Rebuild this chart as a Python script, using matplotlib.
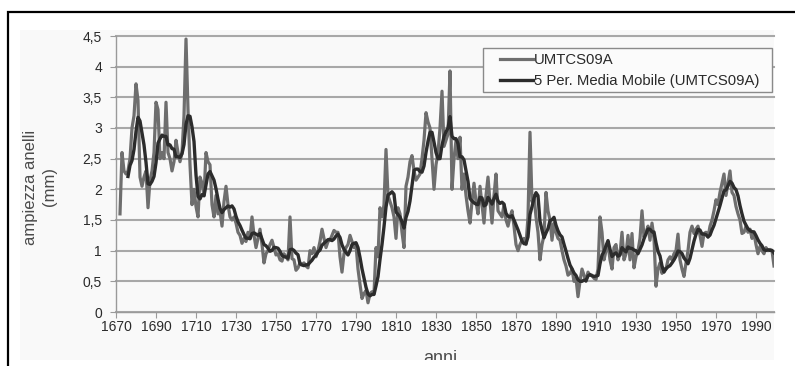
import numpy as np
import pandas as pd
import matplotlib
matplotlib.use("Agg")
import matplotlib.pyplot as plt
from matplotlib.patches import Rectangle
from matplotlib.lines import Line2D
from matplotlib.ticker import FuncFormatter

plt.rcParams['font.family'] = ['Liberation Sans', 'DejaVu Sans']

# Ring width series UMTCS09A (mm), one value per year from 1672
first_year = 1672
ring_width = [
    1.6, 2.6, 2.3, 2.25, 2.3, 2.5, 3.0, 3.2,                 # 1672-1679
    3.72, 3.45, 2.2, 2.05, 2.2, 2.3, 1.7, 2.15, 2.3, 2.6,    # 1680s
    3.42, 3.3, 2.5, 2.6, 2.5, 3.42, 2.6, 2.5, 2.3, 2.45,     # 1690s
    2.8, 2.6, 2.45, 2.6, 3.2, 4.45, 3.3, 2.4, 1.75, 2.0,     # 1700s
    1.72, 1.55, 2.2, 2.1, 1.9, 2.6, 2.45, 2.4, 1.75, 1.55,   # 1710s
    1.9, 1.6, 1.65, 1.4, 1.8, 2.05, 1.75, 1.55, 1.5, 1.55,   # 1720s
    1.45, 1.3, 1.25, 1.12, 1.2, 1.15, 1.3, 1.2, 1.55, 1.25,  # 1730s
    1.05, 1.2, 1.35, 1.1, 0.8, 0.95, 1.0, 1.1, 1.17, 1.05,   # 1740s
    0.93, 0.95, 0.85, 0.83, 0.95, 0.9, 0.85, 1.55, 0.87, 0.85,  # 1750s
    0.68, 0.72, 0.8, 0.78, 0.8, 0.75, 0.72, 1.0, 0.95, 1.05,    # 1760s
    0.9, 1.0, 1.15, 1.35, 1.2, 1.05, 1.15, 1.17, 1.25, 1.33,    # 1770s
    1.3, 1.3, 0.9, 0.65, 0.95, 1.05, 1.1, 1.25, 1.15, 1.05,     # 1780s
    1.1, 0.7, 0.45, 0.22, 0.3, 0.35, 0.15, 0.3, 0.33, 0.3,      # 1790s
    1.05, 0.9, 1.7, 1.55, 1.75, 2.65, 1.9, 1.8, 1.7, 1.55,      # 1800s
    1.2, 1.7, 1.6, 1.3, 1.05, 2.05, 2.2, 2.45, 2.55, 2.3,       # 1810s
    2.15, 2.2, 2.25, 2.5, 2.8, 3.25, 3.1, 3.0, 2.5, 2.0,        # 1820s
    2.4, 2.6, 3.0, 3.6, 2.7, 2.8, 2.9, 3.93, 2.0, 2.5,          # 1830s
    2.8, 2.5, 2.85, 2.0, 2.25, 1.9, 1.65, 1.45, 1.8, 2.1,       # 1840s
    1.8, 1.6, 2.05, 1.75, 1.45, 1.9, 2.2, 1.8, 1.45, 1.9,       # 1850s
    2.25, 1.65, 1.6, 1.55, 1.75, 1.5, 1.4, 1.55, 1.65, 1.4,     # 1860s
    1.1, 1.0, 1.1, 1.17, 1.2, 1.1, 1.55, 2.93, 1.8, 1.9,        # 1870s
    1.55, 1.3, 0.85, 1.1, 1.25, 1.95, 1.65, 1.5, 1.17, 1.45,    # 1880s
    1.3, 1.2, 1.17, 1.0, 0.85, 0.75, 0.6, 0.63, 0.7, 0.5,       # 1890s
    0.55, 0.25, 0.5, 0.7, 0.6, 0.5, 0.65, 0.6, 0.6, 0.55,       # 1900s
    0.53, 0.7, 1.55, 1.3, 0.85, 1.0, 1.12, 0.85, 0.7, 1.05,     # 1910s
    1.1, 0.85, 0.95, 1.3, 0.85, 0.95, 1.25, 0.85, 1.28, 0.72,   # 1920s
    0.9, 1.0, 1.2, 1.65, 1.22, 1.3, 1.4, 1.17, 1.45, 1.2,       # 1930s
    0.42, 0.7, 0.8, 0.63, 0.7, 0.7, 0.85, 0.9, 0.85, 0.95,      # 1940s
    1.0, 1.27, 0.85, 0.7, 0.58, 0.8, 1.0, 1.3, 1.4, 1.28,       # 1950s
    1.35, 1.4, 1.25, 1.07, 1.28, 1.3, 1.22, 1.4, 1.5, 1.65,     # 1960s
    1.83, 1.75, 1.95, 2.1, 2.25, 1.9, 2.1, 2.3, 1.95, 1.9,      # 1970s
    1.72, 1.6, 1.5, 1.28, 1.3, 1.4, 1.3, 1.35, 1.2, 1.28,       # 1980s
    1.1, 0.95, 1.07, 1.0, 0.95, 1.05, 1.0, 1.02, 1.0, 0.75,     # 1990s
]
years = np.arange(first_year, first_year + len(ring_width))

series_label = 'UMTCS09A'
ma_label = '5 Per. Media Mobile (UMTCS09A)'
x_ticks = list(range(1670, 2000, 20))
y_ticks = [0, 0.5, 1, 1.5, 2, 2.5, 3, 3.5, 4, 4.5]

# 5-year trailing moving average
moving_avg = pd.Series(ring_width).rolling(5).mean()

W, H = 795, 366
fig = plt.figure(figsize=(W / 100, H / 100), dpi=100)
fig.patch.set_facecolor('white')


def fx(px):
    return px / W


def fy(py):
    return 1 - py / H


# chart area background
bg = Rectangle((fx(20), fy(360)), fx(774) - fx(20), fy(30) - fy(360),
               transform=fig.transFigure, facecolor='#f9f9f9',
               edgecolor='none', zorder=0)
fig.add_artist(bg)

# outer frame (top and left edges)
fig.add_artist(Line2D([fx(8), fx(8), 1.0], [0, fy(12), fy(12)],
                      transform=fig.transFigure, color='black', lw=1.6,
                      solid_joinstyle='miter', zorder=10))

ax = fig.add_axes([fx(116), fy(312), fx(774) - fx(116), fy(36) - fy(312)])
ax.set_facecolor('none')
ax.set_zorder(1)

raw_line, = ax.plot(years, ring_width, color='#6e6e6e', lw=2.3,
                    label=series_label, zorder=3)
ma_line, = ax.plot(years, moving_avg, color='#2c2c2c', lw=2.4,
                   label=ma_label, zorder=4)

ax.set_xlim(1670, 1999)
ax.set_ylim(0, 4.5)
ax.set_xticks(x_ticks)
ax.set_yticks(y_ticks)
ax.yaxis.set_major_formatter(FuncFormatter(lambda v, p: f'{v:g}'.replace('.', ',')))

ax.grid(axis='y', color='#a8a8a8', lw=1.5)
ax.set_axisbelow(True)
for gl in ax.get_ygridlines():
    gl.set_clip_on(False)

for side in ['top', 'right']:
    ax.spines[side].set_visible(False)
for side in ['left', 'bottom']:
    ax.spines[side].set_color('#9a9a9a')
    ax.spines[side].set_linewidth(1.0)

ax.tick_params(axis='both', length=4, color='#9a9a9a', labelsize=10,
               labelcolor='#2a2a2a')
ax.tick_params(axis='y', pad=6)
ax.tick_params(axis='x', pad=1.5)

fig.text(fx(40), fy(187), 'ampiezza anelli\n(mm)', rotation=90,
         ha='center', va='center', multialignment='center',
         fontsize=12, color='#4a4a4a', linespacing=1.4)

xl = fig.text(fx(440), fy(363), 'anni', ha='center', va='baseline',
              fontsize=13, color='#4a4a4a')
xl.set_clip_path(bg)

# legend box
fig.add_artist(Rectangle((fx(483), fy(92)), fx(772) - fx(483), fy(48) - fy(92),
                         transform=fig.transFigure, facecolor='#fbfbfb',
                         edgecolor='#8a8a8a', lw=1.0, zorder=5))
leg = fig.legend([raw_line, ma_line], [series_label, ma_label],
                 loc='upper left', bbox_to_anchor=(fx(500), fy(53)),
                 bbox_transform=fig.transFigure, frameon=False,
                 borderaxespad=0, borderpad=0, handlelength=2.2,
                 handletextpad=0.1, labelspacing=0.5, fontsize=10.7)
leg.set_zorder(6)
for t in leg.get_texts():
    t.set_color('#2a2a2a')

fig.savefig('out.png', dpi=100, facecolor='white')
